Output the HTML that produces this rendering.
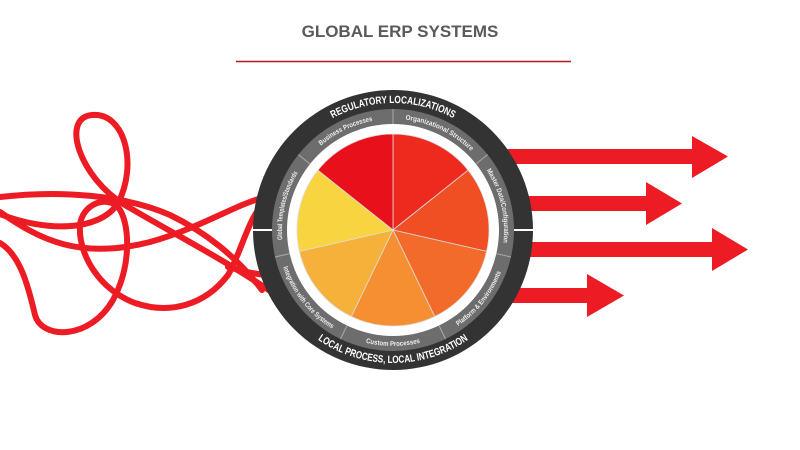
<!DOCTYPE html>
<html><head><meta charset="utf-8"><style>
html,body{margin:0;padding:0;background:#fff;width:800px;height:450px;overflow:hidden}
</style></head><body>
<svg width="800" height="450" viewBox="0 0 800 450" xmlns="http://www.w3.org/2000/svg">
<text x="400" y="37" text-anchor="middle" font-family="Liberation Sans, sans-serif" font-weight="bold" font-size="17" fill="#5a5a5a">GLOBAL ERP SYSTEMS</text>
<line x1="236" y1="61.5" x2="571" y2="61.5" stroke="#b0191e" stroke-width="1.5"/>
<g fill="#ed1c24">
<rect x="470" y="149" width="224" height="15"/><polygon points="692,136 728,156.5 692,178"/>
<rect x="470" y="196" width="178" height="15"/><polygon points="646,182 682,203.5 646,225"/>
<rect x="470" y="242" width="244" height="15"/><polygon points="712,228 748,249.5 712,271"/>
<rect x="470" y="288" width="119" height="15"/><polygon points="587,274 624,295.5 587,317"/>
</g>
<g fill="none" stroke="#ed1c24" stroke-width="6" stroke-linecap="round">
<path d="M283,300 C230,262 170,232 125,205 C80,178 60,118 92,115 C125,112 138,165 118,203 C100,232 45,232 0,214"/>
<path d="M0,197 C60,190 125,195 170,215 C205,232 235,255 262,290"/>
<path d="M0,243 C20,255 28,285 35,315 C42,340 90,340 113,300 C132,265 130,222 118,207 C105,195 82,205 80,225 C78,255 100,290 135,303 C170,315 205,305 228,275 C240,255 248,220 262,205"/>
<path d="M0,212 C40,240 80,260 150,242 C200,228 235,205 262,198"/>
<path d="M228,267 C245,272 258,275 270,275"/>
</g>
<circle cx="393" cy="230" r="140" fill="#333"/>
<circle cx="393" cy="230" r="121" fill="#6d6d6d"/>
<circle cx="393" cy="230" r="106" fill="#fff"/>
<g transform="translate(0,1)">
<g stroke="#aaa" stroke-width="1">
<line x1="393" y1="108" x2="393" y2="123"/>
<line x1="487.6" y1="153.6" x2="475.9" y2="163"/>
<line x1="511" y1="256" x2="496.3" y2="252.6"/>
<line x1="445.5" y1="338" x2="439" y2="324.5"/>
<line x1="340.5" y1="338" x2="347" y2="324.5"/>
<line x1="275" y1="256" x2="289.7" y2="252.6"/>
<line x1="298.4" y1="153.6" x2="310.1" y2="163"/>
</g>
<line x1="253" y1="229" x2="272" y2="229" stroke="#fff" stroke-width="2"/>
<line x1="514" y1="229" x2="533" y2="229" stroke="#fff" stroke-width="2"/>
<g stroke="#ddd" stroke-width="0.8">
<path d="M393,229 L393,133 A96,96 0 0 1 468.1,169.2 Z" fill="#ee2a1e"/>
<path d="M393,229 L468.1,169.2 A96,96 0 0 1 486.6,250.4 Z" fill="#f04e23"/>
<path d="M393,229 L486.6,250.4 A96,96 0 0 1 434.7,315.5 Z" fill="#f26b2a"/>
<path d="M393,229 L434.7,315.5 A96,96 0 0 1 351.3,315.5 Z" fill="#f58f31"/>
<path d="M393,229 L351.3,315.5 A96,96 0 0 1 299.4,250.4 Z" fill="#f6b13b"/>
<path d="M393,229 L299.4,250.4 A96,96 0 0 1 317.9,169.2 Z" fill="#f8d441"/>
<path d="M393,229 L317.9,169.2 A96,96 0 0 1 393,133 Z" fill="#e8101a"/>
</g>
<defs>
<path id="cwg" d="M393,340 A111,111 0 0 1 393,118 A111,111 0 0 1 393,340"/>
<path id="ccwg" d="M393,113 A116,116 0 0 0 393,345 A116,116 0 0 0 393,113"/>
<path id="cwd" d="M393,356 A127,127 0 0 1 393,102 A127,127 0 0 1 393,356"/>
<path id="ccwd" d="M393,96 A133,133 0 0 0 393,362 A133,133 0 0 0 393,96"/>
</defs>
<g font-family="Liberation Sans, sans-serif" font-weight="bold" font-size="7" fill="#eee" text-anchor="middle">
<text><textPath href="#cwg" startOffset="57.1%" textLength="74" lengthAdjust="spacingAndGlyphs">Organizational Structure</textPath></text>
<text><textPath href="#cwg" startOffset="71.4%" textLength="76" lengthAdjust="spacingAndGlyphs">Master Data/Configuration</textPath></text>
<text><textPath href="#cwg" startOffset="28.6%" textLength="70" lengthAdjust="spacingAndGlyphs">Global Templates/Standards</textPath></text>
<text><textPath href="#cwg" startOffset="42.9%" textLength="58" lengthAdjust="spacingAndGlyphs">Business Processes</textPath></text>
<text><textPath href="#ccwg" startOffset="64.3%" textLength="70" lengthAdjust="spacingAndGlyphs">Platform &amp; Environments</textPath></text>
<text><textPath href="#ccwg" startOffset="50%" textLength="55" lengthAdjust="spacingAndGlyphs">Custom Processes</textPath></text>
<text><textPath href="#ccwg" startOffset="35.7%" textLength="80" lengthAdjust="spacingAndGlyphs">Integration with Core Systems</textPath></text>
</g>
<g font-family="Liberation Sans, sans-serif" font-weight="bold" font-size="10.5" fill="#fff" text-anchor="middle">
<text><textPath href="#cwd" startOffset="50%" textLength="126" lengthAdjust="spacingAndGlyphs">REGULATORY LOCALIZATIONS</textPath></text>
<text><textPath href="#ccwd" startOffset="50%" textLength="160" lengthAdjust="spacingAndGlyphs">LOCAL PROCESS, LOCAL INTEGRATION</textPath></text>
</g>
</g>
</svg>
</body></html>
